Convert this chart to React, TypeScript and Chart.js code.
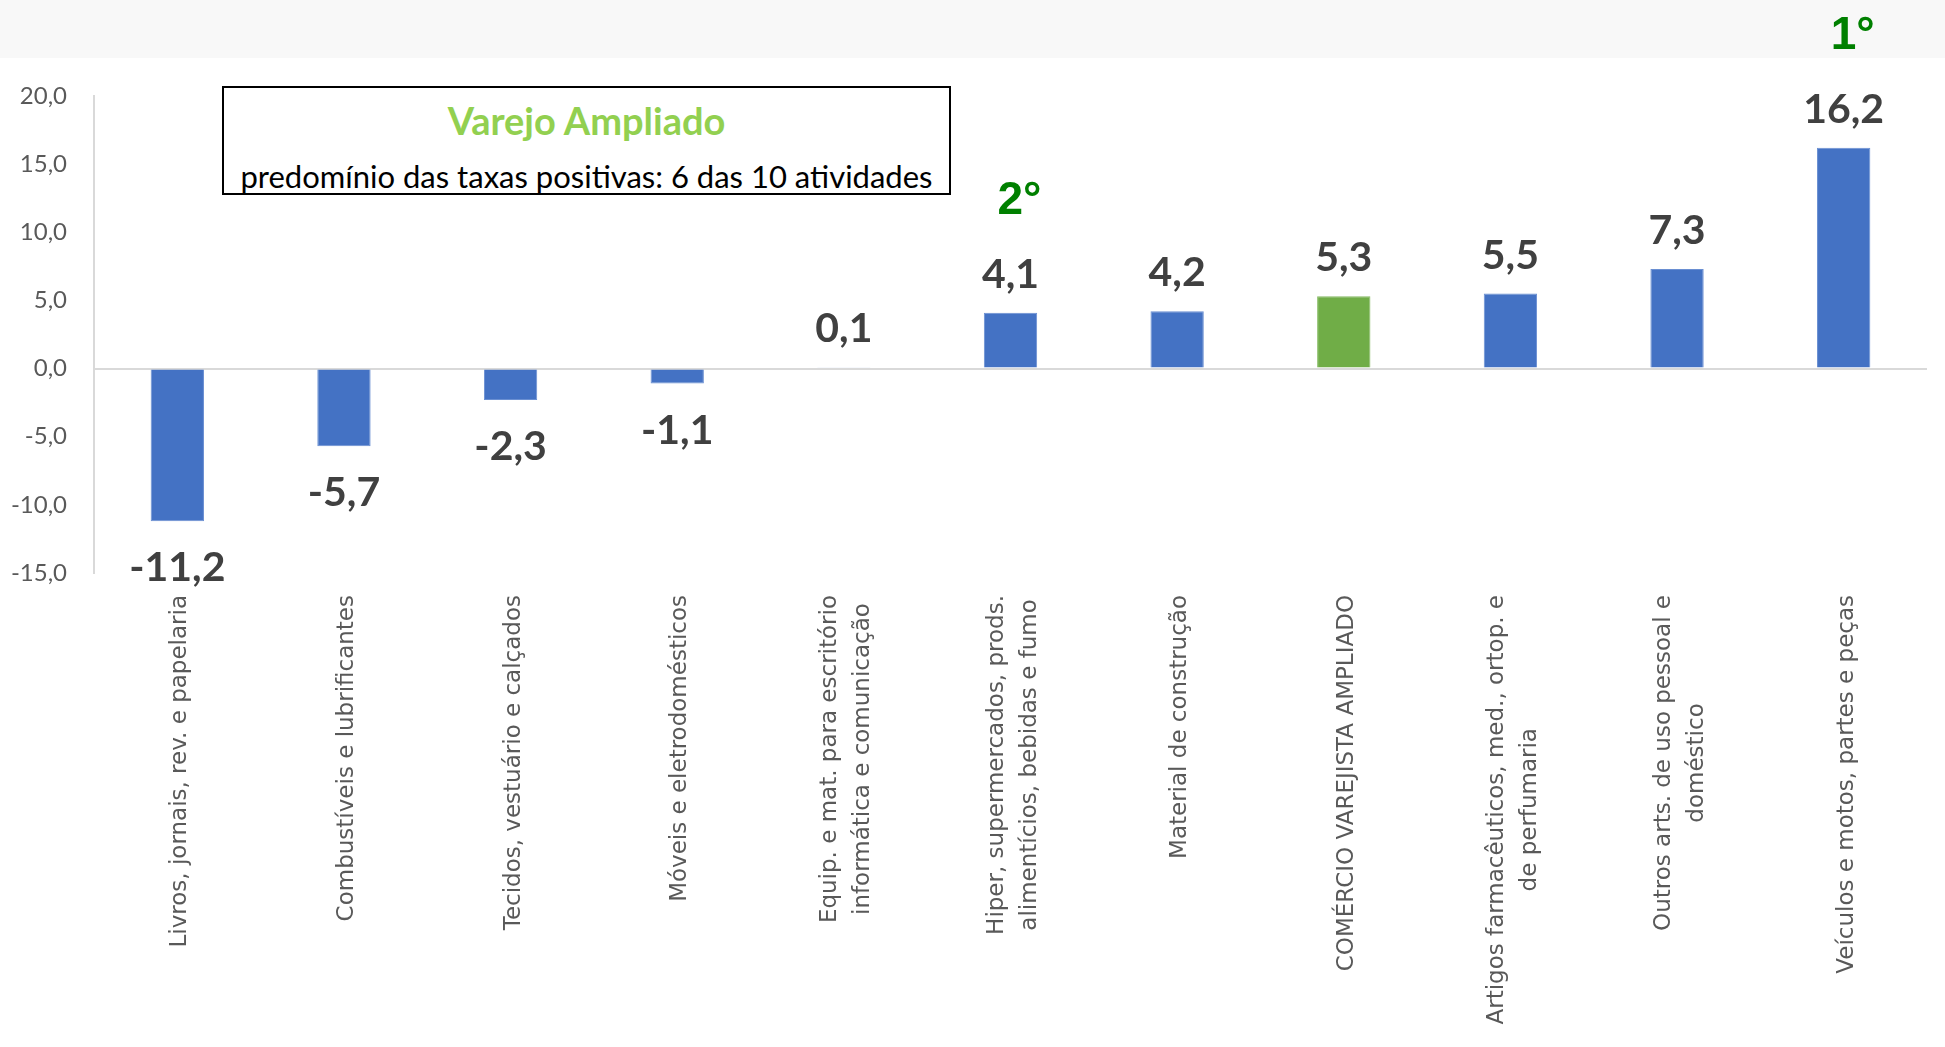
import React, { useEffect, useRef } from 'react';
import { Chart, registerables } from 'chart.js';

Chart.register(...registerables);

const categories: string[][] = [
  ['Livros, jornais, rev. e papelaria'],
  ['Combustíveis e lubrificantes'],
  ['Tecidos, vestuário e calçados'],
  ['Móveis e eletrodomésticos'],
  ['Equip. e mat. para escritório', 'informática e comunicação'],
  ['Hiper, supermercados, prods.', 'alimentícios, bebidas e fumo'],
  ['Material de construção'],
  ['COMÉRCIO VAREJISTA AMPLIADO'],
  ['Artigos farmacêuticos, med., ortop. e', 'de perfumaria'],
  ['Outros arts. de uso pessoal e', 'doméstico'],
  ['Veículos e motos, partes e peças'],
];

const values: number[] = [-11.2, -5.7, -2.3, -1.1, 0.1, 4.1, 4.2, 5.3, 5.5, 7.3, 16.2];

const barColors: string[] = [
  '#4472C4', '#4472C4', '#4472C4', '#4472C4', '#4472C4', '#4472C4',
  '#4472C4', '#70AD47', '#4472C4', '#4472C4', '#4472C4',
];

const rankLabels: string[] = ['', '', '', '', '', '2°', '', '', '', '', '1°'];

const yMin = -15;
const yMax = 20;
const yStep = 5;

const boxTitle = 'Varejo Ampliado';
const boxSubtitle = 'predomínio das taxas positivas: 6 das 10 atividades';

const fmt = (v: number) => v.toFixed(1).replace('.', ',');

const customLabels = {
  id: 'customLabels',
  afterDatasetsDraw(chart: any) {
    const ctx = chart.ctx as CanvasRenderingContext2D;
    const meta = chart.getDatasetMeta(0);
    const xScale = chart.scales.x;
    ctx.save();
    meta.data.forEach((bar: any, i: number) => {
      const v = values[i];
      const { x, y } = bar.getProps(['x', 'y'], true);
      ctx.font = 'bold 41px Lato';
      ctx.fillStyle = '#404040';
      ctx.textAlign = 'center';
      ctx.textBaseline = 'alphabetic';
      const txt = fmt(v);
      if (v >= 0) ctx.fillText(txt, x, y - 25);
      else ctx.fillText(txt, x, y + 60);
      if (rankLabels[i]) {
        ctx.font = 'bold 46px "Liberation Sans"';
        ctx.fillStyle = '#008000';
        ctx.fillText(rankLabels[i], x + 9, y - 99);
      }
    });

    ctx.font = '23px "DejaVu Sans"';
    ctx.fillStyle = '#595959';
    const labelTop = chart.chartArea.bottom + 22;
    categories.forEach((lines, i) => {
      const cx = xScale.getPixelForValue(i);
      const widths = lines.map((l) => ctx.measureText(l).width);
      const W = Math.max(...widths);
      const cy = labelTop + W / 2;
      lines.forEach((l, j) => {
        ctx.save();
        ctx.translate(cx + (j - (lines.length - 1) / 2) * 33 + 3, cy);
        ctx.rotate(-Math.PI / 2);
        ctx.textAlign = 'center';
        ctx.textBaseline = 'middle';
        ctx.fillText(l, 0, 0);
        ctx.restore();
      });
    });
    ctx.restore();
  },
};

export default function App() {
  const canvasRef = useRef<HTMLCanvasElement | null>(null);

  useEffect(() => {
    document.body.style.margin = '0';
    const canvas = canvasRef.current;
    if (!canvas) return;
    const chart = new Chart(canvas, {
      type: 'bar',
      data: {
        labels: categories.map((c) => c.join(' ')),
        datasets: [
          {
            data: values,
            backgroundColor: barColors,
            borderColor: barColors.map((c) => (c === '#70AD47' ? '#86bb63' : '#6a8fd2')),
            borderWidth: 1,
            barPercentage: 0.32,
            categoryPercentage: 1,
          },
        ],
      },
      options: {
        animation: false,
        responsive: false,
        maintainAspectRatio: false,
        layout: { padding: { top: 96, right: 18, bottom: 474, left: 0 } },
        plugins: {
          legend: { display: false },
          title: { display: false },
          tooltip: { enabled: false },
        },
        scales: {
          x: {
            display: false,
            grid: { display: false },
          },
          y: {
            min: yMin,
            max: yMax,
            afterFit: (scale: any) => {
              scale.width = 94;
            },
            ticks: {
              stepSize: yStep,
              padding: 27,
              color: '#595959',
              font: { family: 'Lato', size: 24 },
              callback: (v: any) => fmt(Number(v)),
            },
            border: { display: true, color: '#d9d9d9', width: 2 },
            grid: {
              drawTicks: false,
              lineWidth: 2,
              color: (c: any) => (c.tick && c.tick.value === 0 ? '#d9d9d9' : 'rgba(0,0,0,0)'),
            },
          },
        },
      },
      plugins: [customLabels],
    });
    return () => chart.destroy();
  }, []);

  return (
    <div style={{ position: 'relative', width: 1945, height: 1047, overflow: 'hidden', background: '#ffffff' }}>
      <div style={{ position: 'absolute', left: 0, top: 0, width: 1945, height: 58, background: '#f8f8f8' }} />
      <canvas
        ref={canvasRef}
        width={1945}
        height={1047}
        style={{ position: 'absolute', left: 0, top: 0, width: 1945, height: 1047 }}
      />
      <div
        style={{
          position: 'absolute',
          left: 222,
          top: 86,
          width: 729,
          height: 109,
          boxSizing: 'border-box',
          border: '2px solid #000',
          background: '#fff',
        }}
      >
        <div
          style={{
            position: 'absolute',
            left: 0,
            right: 0,
            top: 10,
            height: 44,
            lineHeight: '44px',
            textAlign: 'center',
            fontFamily: 'Lato',
            fontWeight: 'bold',
            fontSize: 38,
            color: '#92D050',
            whiteSpace: 'nowrap',
          }}
        >
          {boxTitle}
        </div>
        <div
          style={{
            position: 'absolute',
            left: 0,
            right: 0,
            top: 69,
            height: 38,
            lineHeight: '38px',
            textAlign: 'center',
            fontFamily: 'Lato',
            fontSize: 31,
            color: '#000',
            whiteSpace: 'nowrap',
          }}
        >
          {boxSubtitle}
        </div>
      </div>
    </div>
  );
}
